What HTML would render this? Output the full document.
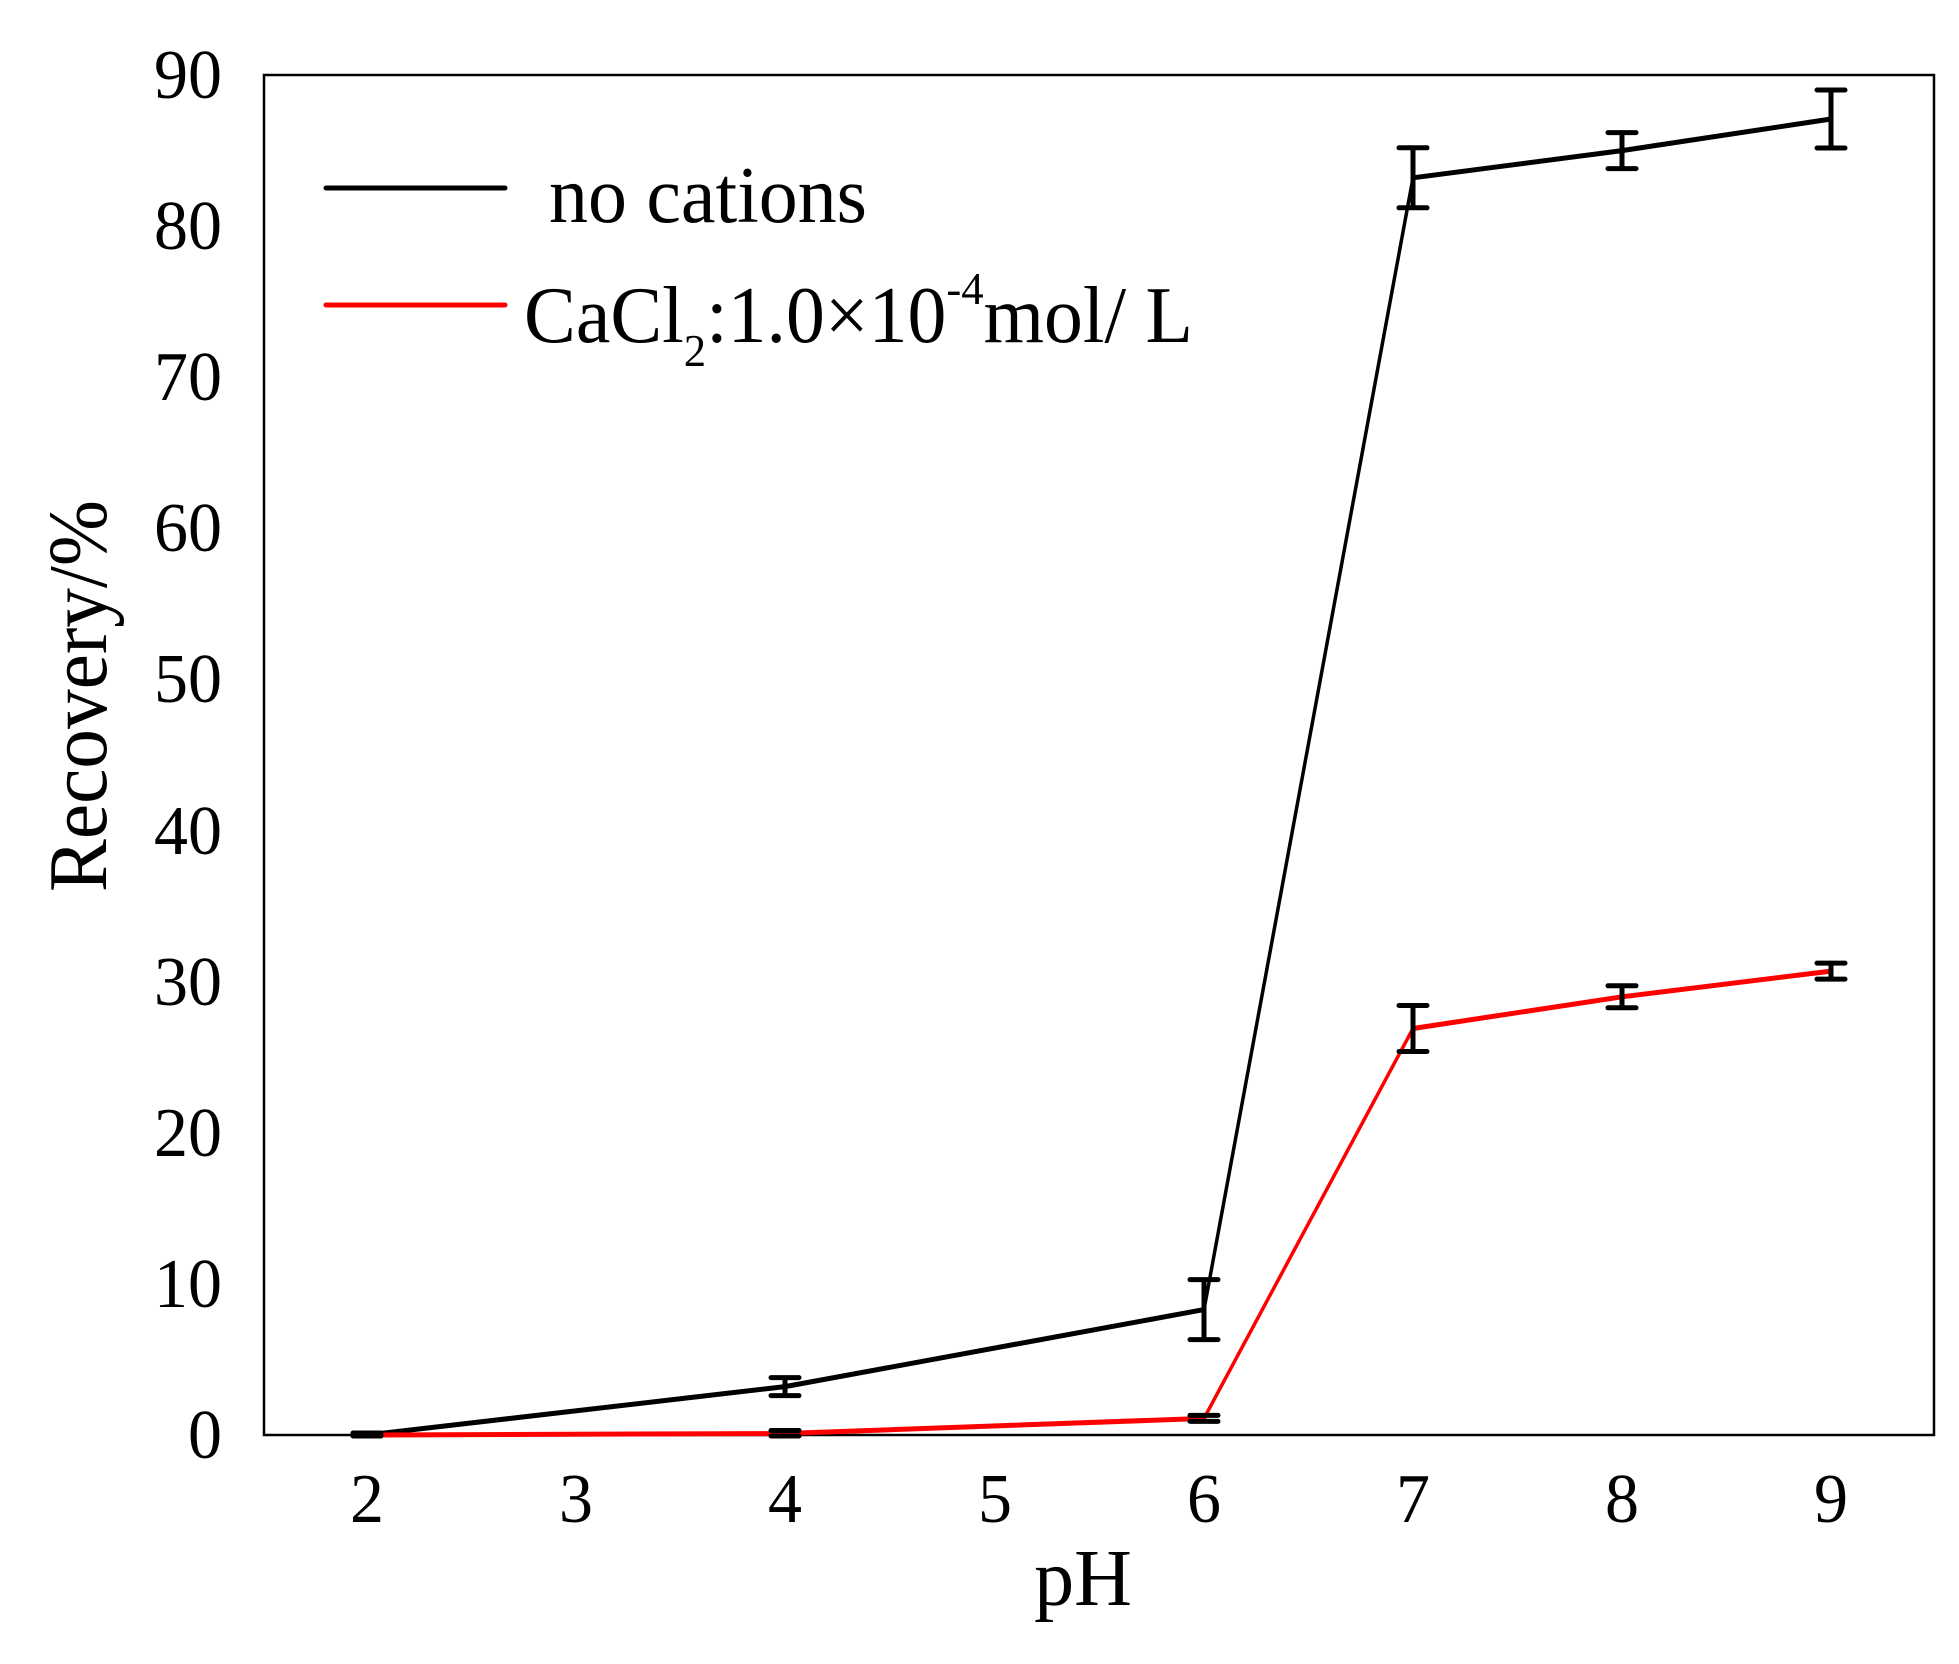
<!DOCTYPE html>
<html><head><meta charset="utf-8"><style>html,body{margin:0;padding:0;background:#fff}</style></head>
<body>
<svg width="1959" height="1659" viewBox="0 0 1959 1659" xmlns="http://www.w3.org/2000/svg" font-family="Liberation Serif, serif">
<rect width="1959" height="1659" fill="#fff"/>
<rect x="264" y="75" width="1670" height="1360" fill="none" stroke="#000" stroke-width="2.5"/>
<g font-size="70" text-anchor="end" lengthAdjust="spacingAndGlyphs">
<text x="222" y="1458" textLength="34" lengthAdjust="spacingAndGlyphs">0</text>
<text x="222" y="1307" textLength="68" lengthAdjust="spacingAndGlyphs">10</text>
<text x="222" y="1156" textLength="68" lengthAdjust="spacingAndGlyphs">20</text>
<text x="222" y="1005" textLength="68" lengthAdjust="spacingAndGlyphs">30</text>
<text x="222" y="854" textLength="68" lengthAdjust="spacingAndGlyphs">40</text>
<text x="222" y="702" textLength="68" lengthAdjust="spacingAndGlyphs">50</text>
<text x="222" y="551" textLength="68" lengthAdjust="spacingAndGlyphs">60</text>
<text x="222" y="400" textLength="68" lengthAdjust="spacingAndGlyphs">70</text>
<text x="222" y="249" textLength="68" lengthAdjust="spacingAndGlyphs">80</text>
<text x="222" y="98" textLength="68" lengthAdjust="spacingAndGlyphs">90</text>
</g>
<g font-size="70" text-anchor="middle">
<text x="367" y="1522" textLength="34" lengthAdjust="spacingAndGlyphs">2</text>
<text x="576" y="1522" textLength="34" lengthAdjust="spacingAndGlyphs">3</text>
<text x="785" y="1522" textLength="34" lengthAdjust="spacingAndGlyphs">4</text>
<text x="995" y="1522" textLength="34" lengthAdjust="spacingAndGlyphs">5</text>
<text x="1204" y="1522" textLength="34" lengthAdjust="spacingAndGlyphs">6</text>
<text x="1413" y="1522" textLength="34" lengthAdjust="spacingAndGlyphs">7</text>
<text x="1622" y="1522" textLength="34" lengthAdjust="spacingAndGlyphs">8</text>
<text x="1831" y="1522" textLength="34" lengthAdjust="spacingAndGlyphs">9</text>
</g>
<text x="1083" y="1605" font-size="80" text-anchor="middle">pH</text>
<text transform="translate(106,696) rotate(-90)" font-size="84" text-anchor="middle" textLength="392" lengthAdjust="spacingAndGlyphs">Recovery/%</text>
<g stroke="#000" fill="none" stroke-linecap="round">
<polyline points="367,1435 785,1386.6 1204,1309.6" stroke-width="5"/>
<line x1="1204" y1="1309.6" x2="1413" y2="177.8" stroke-width="3.5"/>
<polyline points="1413,177.8 1622,150.6 1831,119" stroke-width="5"/>
</g>
<g stroke="#f00" fill="none" stroke-linecap="round">
<polyline points="367,1435 785,1433.5 1204,1418.4" stroke-width="5"/>
<line x1="1204" y1="1418.4" x2="1413" y2="1028.5" stroke-width="3.5"/>
<polyline points="1413,1028.5 1622,996.8 1831,971.1" stroke-width="5"/>
</g>
<g stroke="#000" stroke-width="5" stroke-linecap="round">
<path d="M785,1377.6V1395.6M771,1377.6H799M771,1395.6H799"/>
<path d="M1204,1279.6V1339.6M1190,1279.6H1218M1190,1339.6H1218"/>
<path d="M1413,147.8V207.8M1399,147.8H1427M1399,207.8H1427"/>
<path d="M1622,132.6V168.6M1608,132.6H1636M1608,168.6H1636"/>
<path d="M1831,90V148M1817,90H1845M1817,148H1845"/>
<path d="M353,1433H381M353,1436H381"/>
<path d="M771,1430.5H799M771,1436H799"/>
<path d="M1190,1415.4H1218M1190,1421.4H1218"/>
<path d="M1413,1005.5V1051.5M1399,1005.5H1427M1399,1051.5H1427"/>
<path d="M1622,985.8V1007.8M1608,985.8H1636M1608,1007.8H1636"/>
<path d="M1831,963.1V979.1M1817,963.1H1845M1817,979.1H1845"/>
</g>
<line x1="326" y1="188" x2="505" y2="188" stroke="#000" stroke-width="5" stroke-linecap="round"/>
<line x1="326" y1="305" x2="505" y2="305" stroke="#f00" stroke-width="5" stroke-linecap="round"/>
<text x="549" y="222" font-size="80" textLength="318" lengthAdjust="spacingAndGlyphs">no cations</text>
<text x="524" y="342" font-size="80" textLength="669" lengthAdjust="spacingAndGlyphs">CaCl<tspan font-size="46" dy="24">2</tspan><tspan dy="-24">:1.0×10</tspan><tspan font-size="46" dy="-38">-4</tspan><tspan dy="38">mol/ L</tspan></text>
</svg>
</body></html>
